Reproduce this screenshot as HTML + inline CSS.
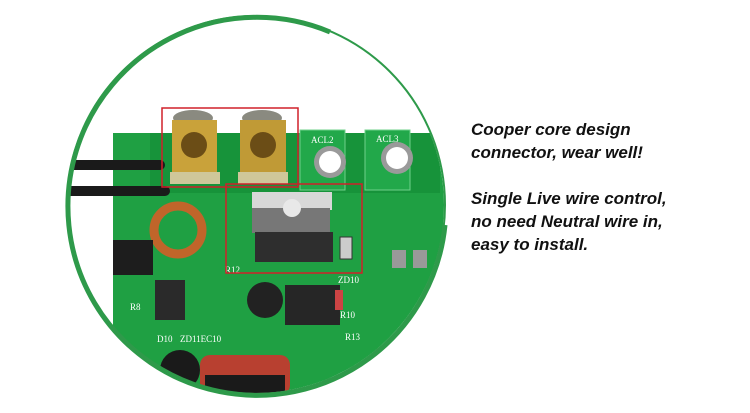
<!DOCTYPE html>
<html><head><style>
body{margin:0;width:750px;height:413px;background:#fff;overflow:hidden;position:relative}
.t{position:absolute;left:471px;font-family:"Liberation Sans",sans-serif;font-weight:bold;font-style:italic;font-size:17px;line-height:23px;color:#111;white-space:nowrap}
</style></head><body>
<svg width="750" height="413" style="position:absolute;left:0;top:0">
<defs><clipPath id="c"><circle cx="256" cy="205" r="188"/></clipPath></defs>
<g clip-path="url(#c)">
<rect x="0" y="0" width="750" height="413" fill="#fff"/>
<rect x="113" y="133" width="340" height="280" fill="#1fa043"/>
<rect x="150" y="133" width="290" height="60" fill="#17933a"/>
<rect x="300" y="130" width="45" height="60" fill="#22a84a" stroke="#6fd08a" stroke-width="1"/>
<rect x="365" y="130" width="45" height="60" fill="#22a84a" stroke="#6fd08a" stroke-width="1"/>
<circle cx="330" cy="162" r="16" fill="#9a9a9a"/><circle cx="330" cy="162" r="11" fill="#fff"/>
<circle cx="397" cy="158" r="16" fill="#9a9a9a"/><circle cx="397" cy="158" r="11" fill="#fff"/>
<text x="311" y="143" font-family="Liberation Serif" font-size="9" fill="#fff">ACL2</text>
<text x="376" y="142" font-family="Liberation Serif" font-size="9" fill="#fff">ACL3</text>
<rect x="55" y="160" width="110" height="10" rx="5" fill="#1a1a1a"/>
<rect x="55" y="186" width="115" height="10" rx="5" fill="#1a1a1a"/>
<ellipse cx="193" cy="118" rx="20" ry="8" fill="#8a8a80"/>
<ellipse cx="262" cy="118" rx="20" ry="8" fill="#8a8a80"/>
<rect x="172" y="120" width="45" height="58" fill="#c9a23a"/>
<rect x="240" y="120" width="46" height="58" fill="#c09a36"/>
<circle cx="194" cy="145" r="13" fill="#6b4d16"/>
<circle cx="263" cy="145" r="13" fill="#6b4d16"/>
<rect x="170" y="172" width="50" height="12" fill="#cfc79a"/>
<rect x="238" y="172" width="50" height="12" fill="#cfc79a"/>
<rect x="252" y="192" width="80" height="18" fill="#d8d8d8"/>
<rect x="252" y="208" width="78" height="25" fill="#777"/>
<rect x="255" y="232" width="78" height="30" fill="#2e2e2e"/>
<circle cx="292" cy="208" r="9" fill="#e8e8e8"/>
<rect x="340" y="237" width="12" height="22" fill="#ccc" stroke="#333"/>
<circle cx="178" cy="230" r="24" fill="none" stroke="#c0652a" stroke-width="9"/>
<rect x="113" y="240" width="40" height="35" fill="#1d1d1d"/>
<rect x="155" y="280" width="30" height="40" fill="#2a2a2a"/>
<circle cx="265" cy="300" r="18" fill="#222"/>
<rect x="285" y="285" width="55" height="40" fill="#262626"/>
<rect x="335" y="290" width="8" height="20" fill="#c44"/>
<rect x="200" y="355" width="90" height="40" rx="10" fill="#b84030"/>
<circle cx="180" cy="370" r="20" fill="#1a1a1a"/>
<rect x="205" y="375" width="80" height="40" fill="#1a1a1a"/>
<rect x="392" y="250" width="14" height="18" fill="#999"/><rect x="413" y="250" width="14" height="18" fill="#999"/>
<g font-family="Liberation Serif" font-size="9" fill="#fff"><text x="130" y="310">R8</text><text x="157" y="342">D10</text><text x="180" y="342">ZD11EC10</text><text x="338" y="283">ZD10</text><text x="340" y="318">R10</text><text x="345" y="340">R13</text><text x="225" y="273">R12</text></g>
<rect x="162" y="108" width="136" height="79" fill="none" stroke="#d0202a" stroke-width="1.5"/>
<rect x="226" y="184" width="136" height="89" fill="none" stroke="#d0202a" stroke-width="1.5"/>
</g>
<circle cx="256" cy="205" r="189" fill="none" stroke="#2e9a4a" stroke-width="2"/>
<path d="M 330 32 A 189 189 0 1 0 445 225" fill="none" stroke="#2e9a4a" stroke-width="5"/>
</svg>
<div class="t" style="top:118px">Cooper core design<br>connector, wear well!</div>
<div class="t" style="top:187px">Single Live wire control,<br>no need Neutral wire in,<br>easy to install.</div>
</body></html>
